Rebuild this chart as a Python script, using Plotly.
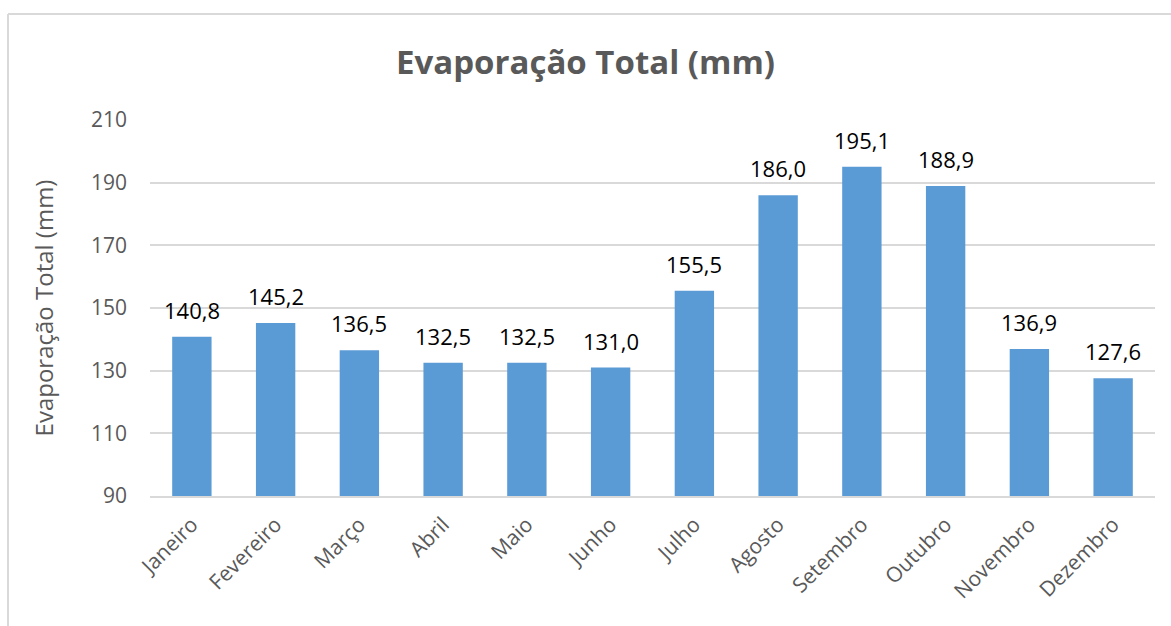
import plotly.graph_objects as go

months = ["Janeiro", "Fevereiro", "Março", "Abril", "Maio", "Junho", "Julho",
          "Agosto", "Setembro", "Outubro", "Novembro", "Dezembro"]
evap = [140.8, 145.2, 136.5, 132.5, 132.5, 131.0, 155.5, 186.0, 195.1, 188.9, 136.9, 127.6]
labels = [f"{v:.1f}".replace(".", ",") for v in evap]
yticks = [90, 110, 130, 150, 170, 190, 210]

W, H = 1171, 626
L, R, T, B = 150, 16, 120, 130
pw, ph = W - L - R, H - T - B

fig = go.Figure(go.Bar(
    x=months, y=evap,
    marker=dict(color="#5B9BD5", line=dict(width=0)),
))

for m, v, t in zip(months, evap, labels):
    fig.add_annotation(x=m, y=v, text=t, showarrow=False, xref="x", yref="y",
                       yanchor="bottom", yshift=10,
                       font=dict(family="Open Sans, sans-serif", size=22, color="#000000"))

def px_x(p):
    return (p - L) / pw

def px_y(p):
    return (H - B - p) / ph

fig.update_layout(
    width=W, height=H,
    margin=dict(l=L, r=R, t=T, b=B),
    paper_bgcolor="white", plot_bgcolor="white",
    bargap=0.53,
    showlegend=False,
    title=dict(text="<b>Evaporação Total (mm)</b>", x=0.5, xanchor="center",
               y=1 - 62 / H, yanchor="middle",
               font=dict(family="Open Sans, sans-serif", size=33, color="#595959")),
    font=dict(family="Open Sans, sans-serif", color="#595959"),
    shapes=[
        dict(type="line", xref="paper", yref="paper", x0=px_x(8), x1=px_x(1175),
             y0=px_y(14), y1=px_y(14), line=dict(color="#D9D9D9", width=2)),
        dict(type="line", xref="paper", yref="paper", x0=px_x(8), x1=px_x(8),
             y0=px_y(14), y1=px_y(640), line=dict(color="#D9D9D9", width=2)),
    ],
)
fig.update_yaxes(range=[90, 210], tickvals=yticks, showgrid=True, gridcolor="#D9D9D9",
                 gridwidth=1.5, zeroline=False, showline=False,
                 tickfont=dict(size=21, color="#595959"), ticks="", ticklabelstandoff=22,
                 title=dict(text="Evaporação Total (mm)", font=dict(size=24, color="#595959"),
                            standoff=30))
fig.update_xaxes(showline=True, linecolor="#D9D9D9", linewidth=2, tickangle=-45,
                 tickfont=dict(size=21, color="#595959"), ticks="", ticklabelstandoff=6)

fig.write_html("out.html")
